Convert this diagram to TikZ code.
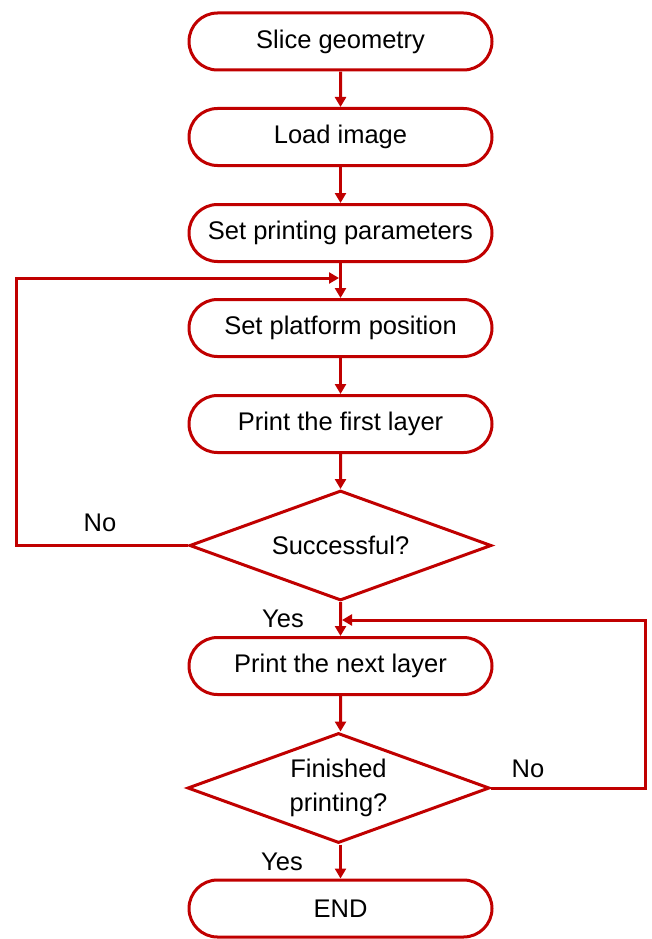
\documentclass[tikz,border=0pt]{standalone}
\usepackage{fontspec}
\setmainfont{Liberation Sans}
\usetikzlibrary{shapes.geometric,shapes.misc,arrows.meta}
\definecolor{fred}{RGB}{192,0,0}
\tikzset{
  stepbox/.style={rounded rectangle, draw=fred, line width=3pt, minimum width=303pt, minimum height=57pt, inner sep=0pt, font=\fontsize{25.5}{30}\selectfont},
  decide/.style={diamond, draw=fred, line width=3pt, minimum width=302pt, minimum height=110pt, aspect=2.75, inner sep=0pt, align=center, font=\fontsize{25.5}{34}\selectfont},
  arr/.style={draw=fred, line width=3pt, -{Triangle[length=10pt,width=11pt]}},
  lbl/.style={font=\fontsize{25.5}{30}\selectfont, inner sep=0pt}
}
\begin{document}
\begin{tikzpicture}[x=1pt,y=-1pt]
\useasboundingbox (0,0) rectangle (651,939);
\node[stepbox] (s1) at (340.5,41.5) {Slice geometry};
\node[stepbox] (s2) at (340.5,137) {Load image};
\node[stepbox] (s3) at (340.5,233) {Set printing parameters};
\node[stepbox] (s4) at (340.5,328) {Set platform position};
\node[stepbox] (s5) at (340.5,424) {Print the first layer};
\node[decide] (d1) at (340.5,545.5) {Successful?};
\node[stepbox] (s6) at (340.5,666) {Print the next layer};
\node[decide] (d2) at (338.5,788) {Finished\\printing?};
\node[stepbox] (s7) at (340.5,908.5) {END};
\coordinate (L1) at (16,278);
\coordinate (j1) at (339,278);
\coordinate (R2) at (645,620);
\coordinate (j2) at (342,620);
\draw[arr] (s1) -- (s2);
\draw[arr] (s2) -- (s3);
\draw[arr] (s3) -- (s4);
\draw[arr] (s4) -- (s5);
\draw[arr] (s5) -- (d1);
\draw[arr] (d1) -- (s6);
\draw[arr] (s6) -- (d2.north -| s6);
\draw[arr] (d2.south -| s7) -- (s7);
\draw[arr] (d1.west) -| (L1) -- (j1);
\draw[arr] (d2.east) -| (R2) -- (j2);
\node[lbl] (no1) at (100,523) {No};
\node[lbl] (yes1) at (283,619) {Yes};
\node[lbl] (no2) at (528,769) {No};
\node[lbl] (yes2) at (282,862) {Yes};
\end{tikzpicture}
\end{document}
